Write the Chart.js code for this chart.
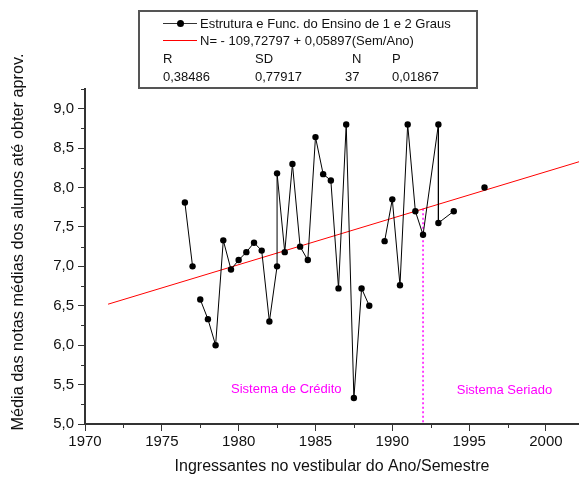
<!DOCTYPE html>
<html>
<head>
<meta charset="utf-8">
<script src="https://cdn.jsdelivr.net/npm/chart.js@4"></script>
<style>
  body { margin: 0; background: #fff; }
  #wrap { position: relative; width: 579px; height: 482px; font-family: Arial, "Liberation Sans", sans-serif; }
  #legenda { position: absolute; left: 138px; top: 10px; width: 336px; height: 75px; border: 2px solid #555; font-size: 13px; color: #111; }
  #legenda span { position: absolute; line-height: 15px; white-space: nowrap; }
  .amostra { position: absolute; height: 0; width: 34px; left: 23px; }
</style>
</head>
<body>
<div id="wrap">
  <canvas id="grafico" width="579" height="482"></canvas>
  <div id="legenda">
    <div class="amostra" style="top:11px;border-top:1px solid #333"></div>
    <div style="position:absolute;left:37px;top:8px;width:7px;height:7px;border-radius:50%;background:#000"></div>
    <span style="left:60px;top:4px">Estrutura e Func. do Ensino de 1 e 2 Graus</span>
    <div class="amostra" style="top:28px;border-top:1px solid #f00"></div>
    <span style="left:60px;top:21px">N= - 109,72797 + 0,05897(Sem/Ano)</span>
    <span style="left:23px;top:39px">R</span>
    <span style="left:115px;top:39px">SD</span>
    <span style="left:212px;top:39px">N</span>
    <span style="left:252px;top:39px">P</span>
    <span style="left:23px;top:57px">0,38486</span>
    <span style="left:115px;top:57px">0,77917</span>
    <span style="left:205px;top:57px">37</span>
    <span style="left:252px;top:57px">0,01867</span>
  </div>
</div>
<script>
// valores (null = quebra na linha)
const anos = [1976.5, 1977.0, null, 1977.5, 1978.0, 1978.5, 1979.0, 1979.5, 1980.0, 1980.5, 1981.0, 1981.5,
  1982.0, 1982.5, 1982.5, 1983.0, 1983.5, 1984.0, 1984.5, 1985.0, 1985.5, 1986.0, 1986.5, 1987.0, 1987.5,
  1988.0, 1988.5, null, 1989.5, 1990.0, 1990.5, 1991.0, 1991.5, 1992.0, 1993.0, 1993.0, 1994.0, null, 1996.0];
const medias = [7.81, 7.00, null, 6.58, 6.33, 6.00, 7.33, 6.96, 7.08, 7.18, 7.30, 7.20,
  6.30, 7.00, 8.18, 7.18, 8.30, 7.25, 7.08, 8.64, 8.17, 8.09, 6.72, 8.80, 5.33,
  6.72, 6.50, null, 7.32, 7.85, 6.76, 8.80, 7.70, 7.40, 8.80, 7.55, 7.70, null, 8.00];

// reta de regressao (extremos lidos)
const retaAnos = [1971.5, 2002.2];
const retaValores = [6.52, 8.33];

// linha divisoria entre os sistemas
const divisaAnos = [1992, 1992];
const divisaValores = [7.73, 5.0];

const textos = [
  { texto: 'Sistema de Crédito', ano: 1983.1, valor: 5.44 },
  { texto: 'Sistema Seriado', ano: 1997.3, valor: 5.43 }
];

const fmt = v => v.toFixed(1).replace('.', ',');
const fonte = 'Arial, "Liberation Sans", sans-serif';

const extras = {
  id: 'extras',
  afterDraw(chart) {
    const ctx = chart.ctx;
    const sx = chart.scales.x, sy = chart.scales.y;
    ctx.save();
    // ticks menores
    ctx.strokeStyle = '#333';
    ctx.lineWidth = 1;
    ctx.beginPath();
    for (let v = 1972.5; v <= sx.max; v += 5) {
      const px = Math.round(sx.getPixelForValue(v)) + 0.5;
      ctx.moveTo(px, sy.bottom);
      ctx.lineTo(px, sy.bottom + 4);
    }
    for (let v = 5.25; v <= sy.max + 0.001; v += 0.5) {
      const py = Math.round(sy.getPixelForValue(v)) + 0.5;
      ctx.moveTo(sx.left - 4, py);
      ctx.lineTo(sx.left, py);
    }
    ctx.stroke();
    // titulo do eixo y
    ctx.fillStyle = '#111';
    ctx.font = '16.3px ' + fonte;
    ctx.textAlign = 'center';
    ctx.textBaseline = 'middle';
    ctx.translate(19, 242);
    ctx.rotate(-Math.PI / 2);
    ctx.fillText('Média das notas médias dos alunos até obter aprov.', 0, 0);
    ctx.restore();
    // textos magenta
    ctx.save();
    ctx.fillStyle = '#ff00ff';
    ctx.font = '13px ' + fonte;
    ctx.textAlign = 'center';
    ctx.textBaseline = 'middle';
    textos.forEach(t => {
      ctx.fillText(t.texto, sx.getPixelForValue(t.ano), sy.getPixelForValue(t.valor));
    });
    ctx.restore();
  }
};

new Chart(document.getElementById('grafico'), {
  type: 'scatter',
  data: {
    datasets: [
      {
        data: anos.map((a, i) => ({ x: a, y: medias[i] })),
        showLine: true,
        spanGaps: false,
        borderColor: '#000',
        borderWidth: 1,
        backgroundColor: '#000',
        pointRadius: 3.2,
        pointBorderWidth: 0,
        order: 1
      },
      {
        data: retaAnos.map((a, i) => ({ x: a, y: retaValores[i] })),
        showLine: true,
        borderColor: '#ff0000',
        borderWidth: 1,
        pointRadius: 0,
        order: 2
      },
      {
        data: divisaAnos.map((a, i) => ({ x: a, y: divisaValores[i] })),
        showLine: true,
        borderColor: '#ff00ff',
        borderWidth: 1.5,
        borderDash: [2, 2.5],
        pointRadius: 0,
        order: 3
      }
    ]
  },
  options: {
    responsive: false,
    animation: false,
    devicePixelRatio: 1,
    layout: { autoPadding: false, padding: { top: 89, right: 0, left: 0, bottom: 0 } },
    plugins: { legend: { display: false }, tooltip: { enabled: false } },
    scales: {
      x: {
        type: 'linear',
        min: 1970,
        max: 2002.15,
        afterFit: s => { s.height = 58; s.paddingRight = 0; },
        border: { display: true, color: '#333', width: 2 },
        grid: { drawOnChartArea: false, color: '#333', tickLength: 7 },
        ticks: {
          stepSize: 5,
          includeBounds: false,
          padding: 2,
          color: '#111',
          maxRotation: 0,
          font: { family: fonte, size: 15 },
          callback: v => String(v)
        },
        title: {
          display: true,
          text: 'Ingressantes no vestibular do Ano/Semestre',
          color: '#111',
          font: { family: fonte, size: 16 },
          padding: { top: 0, bottom: 6 }
        }
      },
      y: {
        type: 'linear',
        min: 5,
        max: 9.25,
        afterFit: s => { s.width = 85; },
        border: { display: true, color: '#333', width: 2 },
        grid: { drawOnChartArea: false, color: '#333', tickLength: 7 },
        ticks: {
          stepSize: 0.5,
          includeBounds: false,
          padding: 4,
          color: '#111',
          font: { family: fonte, size: 15 },
          callback: v => fmt(v)
        }
      }
    }
  },
  plugins: [extras]
});
</script>
</body>
</html>
